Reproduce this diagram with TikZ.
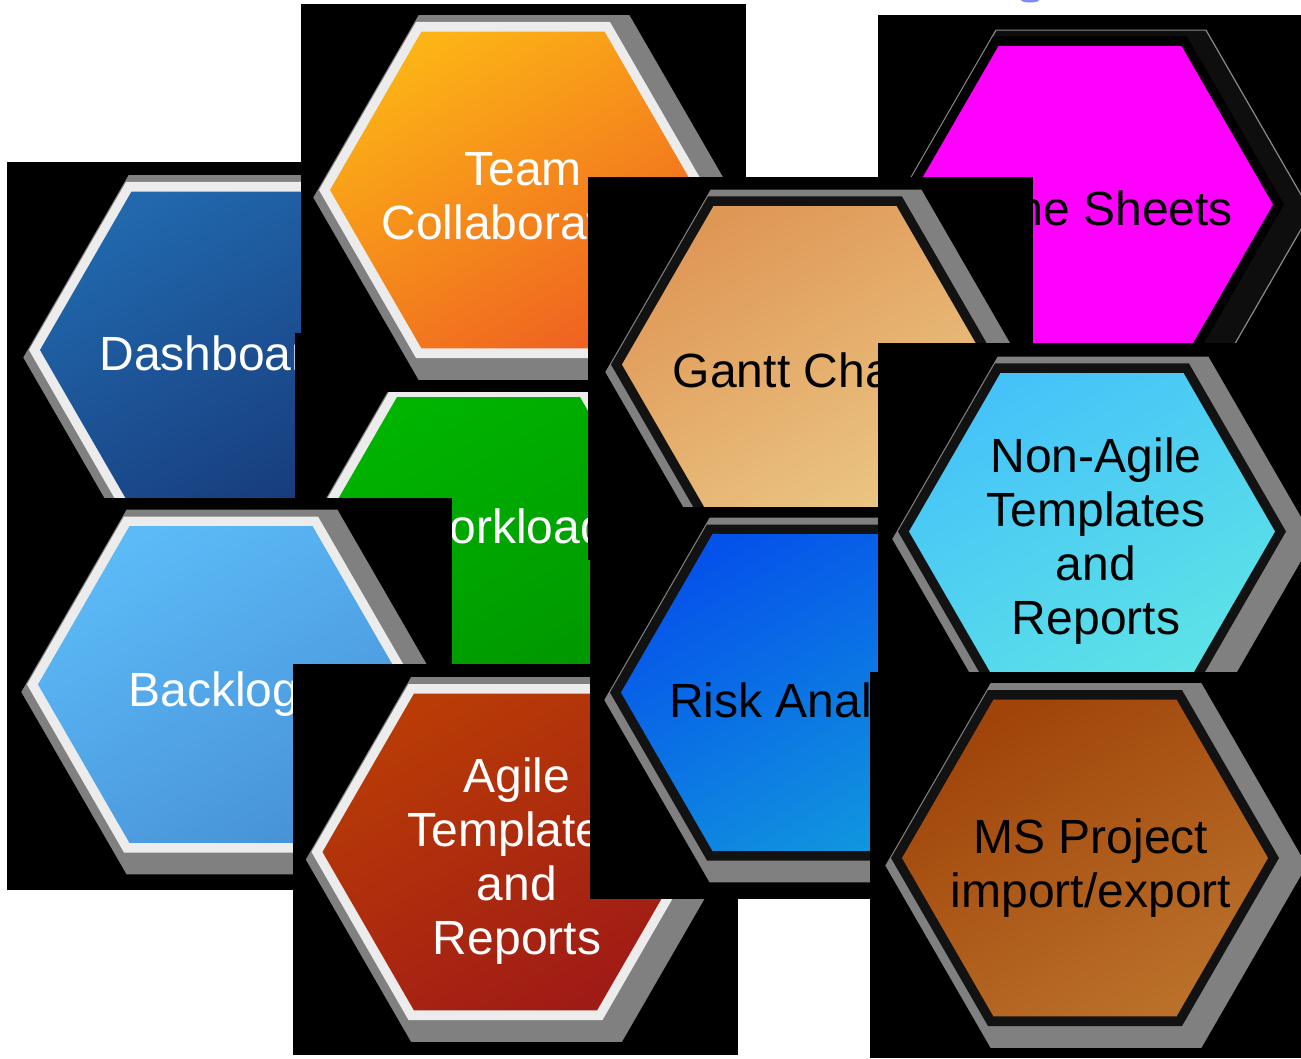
\documentclass[tikz,border=0pt]{standalone}
\usepackage{fontspec}
\setmainfont{Liberation Sans}
\definecolor{shgray}{HTML}{808080}
\definecolor{wborder}{HTML}{ECECEC}
\definecolor{kborder}{HTML}{121212}
\definecolor{dashA}{HTML}{2168AD}
\definecolor{dashB}{HTML}{173C7C}
\definecolor{teamA}{HTML}{FCB316}
\definecolor{teamB}{HTML}{EF6321}
\definecolor{workA}{HTML}{00B400}
\definecolor{workB}{HTML}{009500}
\definecolor{backA}{HTML}{5CBAF7}
\definecolor{backB}{HTML}{4893D8}
\definecolor{agileA}{HTML}{B93C06}
\definecolor{agileB}{HTML}{A01B16}
\definecolor{timeA}{HTML}{FF00FF}
\definecolor{timesh}{HTML}{0E0E0E}
\definecolor{timeline}{HTML}{8A8A8A}
\definecolor{ganttA}{HTML}{DF9756}
\definecolor{ganttB}{HTML}{EBC684}
\definecolor{nonA}{HTML}{45C3F9}
\definecolor{nonB}{HTML}{5DE2E6}
\definecolor{riskA}{HTML}{0552EA}
\definecolor{riskB}{HTML}{1196DE}
\definecolor{msA}{HTML}{A0440A}
\definecolor{msB}{HTML}{BA7029}
\definecolor{smudge}{HTML}{7A8CF5}
\tikzset{
  lbl/.style={font=\fontsize{48}{54}\selectfont, inner sep=0pt, align=center},
  wlbl/.style={lbl, text=white},
  klbl/.style={lbl, text=black},
}
% hexagon with flat top, centre (#1,#2), circumradius #3
\newcommand\hexpath[3]{(#1+#3,#2) -- (#1+0.5*#3,#2+0.8660254*#3) -- (#1-0.5*#3,#2+0.8660254*#3) -- (#1-#3,#2) -- (#1-0.5*#3,#2-0.8660254*#3) -- (#1+0.5*#3,#2-0.8660254*#3) -- cycle}
% cx, cy, shadow fill, shadow line, border colour, colour A, colour B
\newcommand\hexcell[7]{%
  \filldraw[fill=#3, draw=#4, line width=1.2pt, line join=round] \hexpath{#1+11}{#2-7.5}{210};
  \fill[#5] \hexpath{#1}{#2}{194};
  \shade[top color=#6, bottom color=#7, shading angle=30] \hexpath{#1}{#2}{183};
}
% black tile x1, y1, x2, y2 (pixel coordinates, y downwards)
\newcommand\tilebg[4]{\clip (#1,-#2) rectangle (#3,-#4); \fill[black] (#1,-#2) rectangle (#3,-#4);}
\begin{document}
\begin{tikzpicture}[x=1pt,y=1pt]
\useasboundingbox (0,0) rectangle (1301,-1058);
\fill[white] (0,0) rectangle (1301,-1058);
\fill[smudge] (1030,0) ellipse (9 and 2.5);
% Dashboard
\begin{scope}
  \tilebg{7}{162}{440}{530}
  \hexcell{223}{-350}{shgray}{shgray}{wborder}{dashA}{dashB}
  \node[wlbl, anchor=base] (dash) at (217,-370) {Dashboard};
\end{scope}
% Workload
\begin{scope}
  \tilebg{295}{333}{700}{720}
  \hexcell{488.5}{-555.5}{shgray}{shgray}{wborder}{workA}{workB}
  \node[wlbl, anchor=base] (work) at (506,-543) {Workload};
\end{scope}
% Team Collaboration
\begin{scope}
  \tilebg{301}{4}{746}{392}
  \hexcell{513}{-190}{shgray}{shgray}{wborder}{teamA}{teamB}
  \node[wlbl, anchor=north] (team) at (523,-152.6) {Team\\Collaboration};
\end{scope}
% Backlog
\begin{scope}
  \tilebg{7}{498}{452}{890}
  \hexcell{221}{-684.5}{shgray}{shgray}{wborder}{backA}{backB}
  \node[wlbl, anchor=base] (back) at (214,-706) {Backlog};
\end{scope}
% Time Sheets
\begin{scope}
  \tilebg{878}{15}{1301}{400}
  \hexcell{1090}{-204.5}{timesh}{timeline}{black}{timeA}{timeA}
  \node[klbl, anchor=base] (time) at (1099,-225) {Time Sheets};
\end{scope}
% Gantt Chart
\begin{scope}
  \tilebg{588}{177}{1033}{560}
  \hexcell{805}{-364.5}{shgray}{shgray}{kborder}{ganttA}{ganttB}
  \node[klbl, anchor=base] (gantt) at (797,-387) {Gantt Chart};
\end{scope}
% Agile Templates and Reports
\begin{scope}
  \tilebg{293}{664}{738}{1055}
  \hexcell{505.5}{-852}{shgray}{shgray}{wborder}{agileA}{agileB}
  \node[wlbl, anchor=north] (agile) at (517,-757.6) {Agile\\Templates\\and\\Reports};
\end{scope}
% Risk Analysis
\begin{scope}
  \tilebg{590}{507}{930}{899}
  \hexcell{804}{-692.5}{shgray}{shgray}{kborder}{riskA}{riskB}
  \node[klbl, anchor=base] (risk) at (812,-717) {Risk Analysis};
\end{scope}
% Non-Agile Templates and Reports
\begin{scope}
  \tilebg{878}{343}{1301}{700}
  \hexcell{1092}{-531.5}{shgray}{shgray}{kborder}{nonA}{nonB}
  \node[klbl, anchor=north] (nonagile) at (1096,-437.6) {Non-Agile\\Templates\\and\\Reports};
\end{scope}
% MS Project import/export
\begin{scope}
  \tilebg{870}{672}{1301}{1058}
  \hexcell{1085}{-858}{shgray}{shgray}{kborder}{msA}{msB}
  \node[klbl, anchor=north] (msp) at (1091,-818.6) {MS Project\\import/export};
\end{scope}
\end{tikzpicture}
\end{document}
